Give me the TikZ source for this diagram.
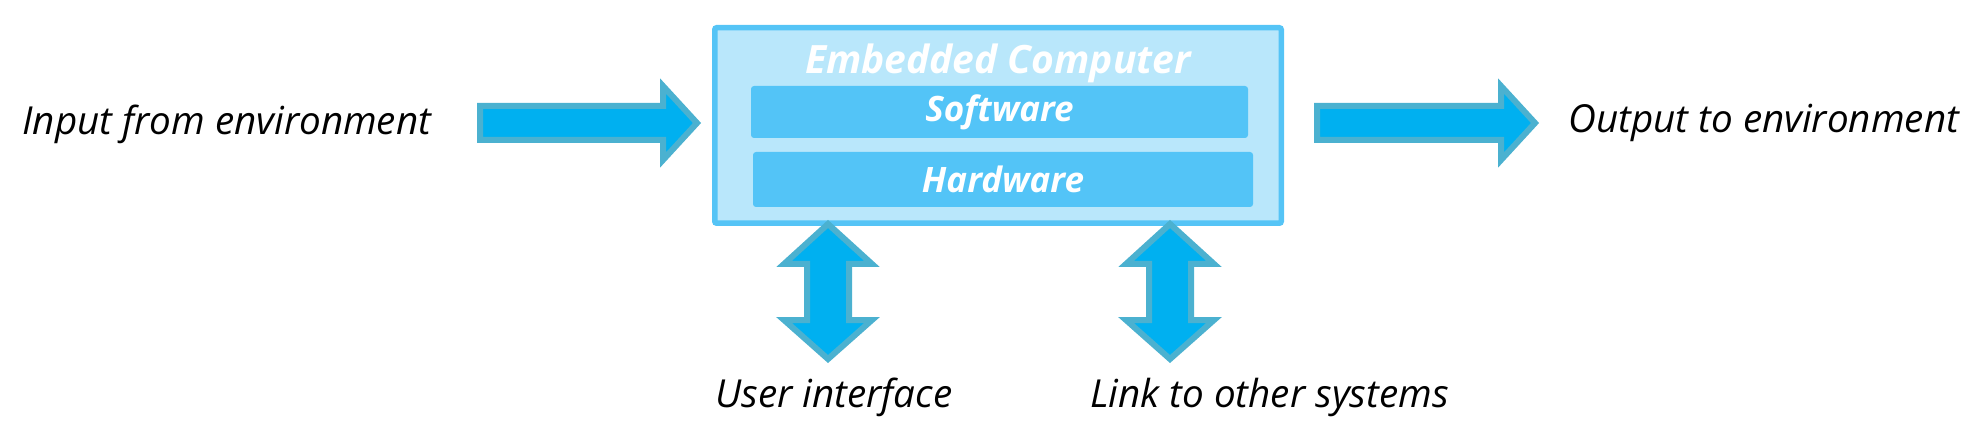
\documentclass[tikz,border=0pt]{standalone}
\usepackage{fontspec}
\setmainfont{Open Sans}

\definecolor{arrowfill}{HTML}{00B0F0}
\definecolor{arrowline}{HTML}{4BB1D0}
\definecolor{boxline}{HTML}{55C4F6}
\definecolor{boxfill}{HTML}{B9E7FB}
\definecolor{layerfill}{HTML}{53C4F7}

\tikzstyle{blockarrow} =[draw=arrowline, fill=arrowfill,
line width=3pt, line join=miter]
\tikzstyle{envtext} =[font=\fontsize{19.3}{22}\selectfont\itshape,
inner sep=0pt]
\tikzstyle{layer} =[fill=layerfill, rounded corners=1.5pt,
text=white, font=\fontsize{17.5}{20}\selectfont\bfseries\itshape]

\begin{document}
\begin{tikzpicture}[x=0.5pt, y=-0.5pt]
	\useasboundingbox (0,0) rectangle (1969,427);
	\node[draw=boxline, fill=boxfill, line width=2.75pt, rounded corners=1pt,
	minimum width=283.25pt, minimum height=97.75pt] (computer) at (998,125.5) {};
	\node[anchor=base, text=white, inner sep=0pt,
	font=\fontsize{19.5}{23}\selectfont\bfseries\itshape] (title) at (998,74) {Embedded Computer};
	\node[layer, minimum width=248.5pt, minimum height=26pt] (software) at (999.5,112) {Software};
	\node[layer, minimum width=250pt, minimum height=27.5pt] (hardware) at (1003,179.5) {Hardware};

	\draw[blockarrow] (480,106) -- (663,106) -- (663,86) -- (697,123)
	-- (663,160) -- (663,140) -- (480,140) -- cycle;
	\draw[blockarrow] (1317,106) -- (1501,106) -- (1501,86) -- (1535,123)
	-- (1501,160) -- (1501,140) -- (1317,140) -- cycle;
	\foreach \x in {828,1170}
	\draw[blockarrow] (\x,224) -- ({\x+44},264) -- ({\x+21},264) -- ({\x+21},320)
	-- ({\x+44},320) -- (\x,359) -- ({\x-44},320) -- ({\x-21},320)
	-- ({\x-21},264) -- ({\x-44},264) -- cycle;

	\node[envtext, anchor=base west] (input) at (22,135) {Input from environment};
	\node[envtext, anchor=base west] (output) at (1568,133) {Output to environment};
	\node[envtext, anchor=base] (user) at (834,407) {User interface};
	\node[envtext, anchor=base west] (link) at (1090,407) {Link to other systems};
\end{tikzpicture}
\end{document}
